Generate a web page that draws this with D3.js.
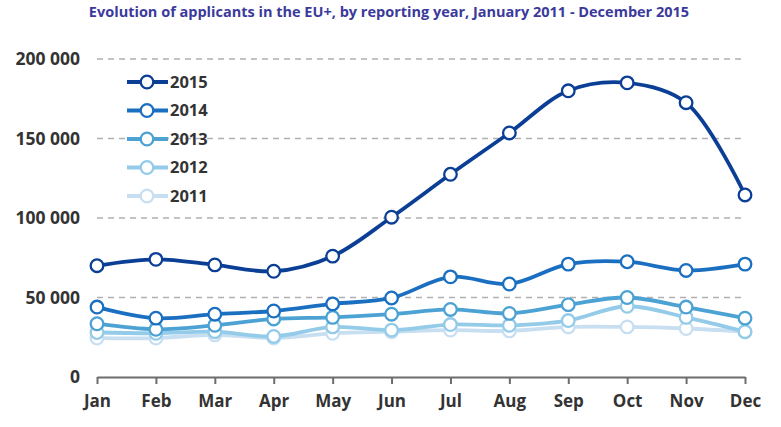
<!DOCTYPE html>
<html>
<head>
<meta charset="utf-8">
<script src="https://cdn.jsdelivr.net/npm/d3@7"></script>
<style>
  body { margin: 0; background: #fff; }
  #chart text { font-family: "Open Sans", "Noto Sans", sans-serif; }
</style>
</head>
<body>
<div id="chart"></div>
<script>
// chart data
var months = ["Jan", "Feb", "Mar", "Apr", "May", "Jun", "Jul", "Aug", "Sep", "Oct", "Nov", "Dec"];
var years = ["2015", "2014", "2013", "2012", "2011"];
var values2015 = [70000, 74000, 70500, 66500, 76000, 100500, 127500, 153500, 180000, 185000, 172500, 114500];
var values2014 = [44000, 37000, 39500, 41500, 46000, 49700, 63000, 58500, 71000, 72500, 67000, 71000];
var values2013 = [33500, 30000, 32500, 36500, 37500, 39500, 42500, 40000, 45500, 50000, 44000, 37000];
var values2012 = [28000, 27500, 28500, 25500, 31500, 29500, 33000, 32500, 35500, 44500, 37500, 28500];
var values2011 = [24500, 24500, 26500, 24500, 27500, 28500, 29500, 29000, 31500, 31500, 30500, 28500];
var yTicks = [0, 50000, 100000, 150000, 200000];

var seriesValues = {
  "2015": values2015, "2014": values2014, "2013": values2013,
  "2012": values2012, "2011": values2011
};
var colors = {
  "2015": "#0b3f95", "2014": "#1b6fc0", "2013": "#4da2d4",
  "2012": "#93cbe8", "2011": "#c8dff2"
};

var width = 781, height = 427;
var margin = {top: 59, left: 97, right: 36, bottom: 50};

var svg = d3.select("#chart").append("svg")
    .attr("width", width)
    .attr("height", height);

svg.append("text")
    .attr("x", 389)
    .attr("y", 17)
    .attr("text-anchor", "middle")
    .style("font-size", "14.5px")
    .style("font-weight", "bold")
    .style("fill", "#3b3a9c")
    .text("Evolution of applicants in the EU+, by reporting year, January 2011 - December 2015");

var x = d3.scalePoint().domain(months).range([margin.left, width - margin.right]);
var y = d3.scaleLinear().domain([0, 200000]).range([height - margin.bottom, margin.top]);

// dashed gridlines
svg.selectAll(".grid")
    .data(yTicks.filter(function(d) { return d > 0; }))
  .enter().append("line")
    .attr("x1", margin.left)
    .attr("x2", width - margin.right)
    .attr("y1", function(d) { return y(d); })
    .attr("y2", function(d) { return y(d); })
    .style("stroke", "#b0b0b0")
    .style("stroke-width", 1.5)
    .style("stroke-dasharray", "6,5");

// y tick labels
svg.selectAll(".ylab")
    .data(yTicks)
  .enter().append("text")
    .attr("x", 80)
    .attr("y", function(d) { return y(d); })
    .attr("dy", "0.36em")
    .attr("text-anchor", "end")
    .style("font-size", "17.5px")
    .style("font-weight", "bold")
    .style("fill", "#333")
    .text(function(d) { return d3.format(",")(d).replace(/,/g, " "); });

// x axis
var xAxis = d3.axisBottom(x).tickSize(7).tickSizeOuter(0).tickPadding(11);
var gx = svg.append("g")
    .attr("transform", "translate(0," + y(0) + ")")
    .call(xAxis);
gx.select(".domain").style("stroke", "#6d6d6d").style("stroke-width", 2);
gx.selectAll(".tick line").style("stroke", "#6d6d6d").style("stroke-width", 2);
gx.selectAll(".tick text")
    .style("font-size", "17px")
    .style("font-weight", "bold")
    .style("fill", "#333");

var line = d3.line()
    .x(function(d, i) { return x(months[i]); })
    .y(function(d) { return y(d); })
    .curve(d3.curveCatmullRom.alpha(0.5));

var drawOrder = years.slice().reverse();
drawOrder.forEach(function(yr) {
  var vals = seriesValues[yr];
  var g = svg.append("g");
  g.append("path")
      .datum(vals)
      .attr("d", line)
      .style("fill", "none")
      .style("stroke", colors[yr])
      .style("stroke-width", 3.8);
  g.selectAll("circle")
      .data(vals)
    .enter().append("circle")
      .attr("cx", function(d, i) { return x(months[i]); })
      .attr("cy", function(d) { return y(d); })
      .attr("r", 6.3)
      .style("fill", "#fff")
      .style("stroke", colors[yr])
      .style("stroke-width", 2.3);
});

// legend
var legend = svg.append("g");
years.forEach(function(yr, i) {
  var ly = 82 + i * 28.5;
  legend.append("line")
      .attr("x1", 127).attr("x2", 168)
      .attr("y1", ly).attr("y2", ly)
      .style("stroke", colors[yr])
      .style("stroke-width", 3.8);
  legend.append("circle")
      .attr("cx", 147).attr("cy", ly).attr("r", 6.3)
      .style("fill", "#fff")
      .style("stroke", colors[yr])
      .style("stroke-width", 2.3);
  legend.append("text")
      .attr("x", 170).attr("y", ly)
      .attr("dy", "0.36em")
      .style("font-size", "16.5px")
      .style("font-weight", "bold")
      .style("fill", "#333")
      .text(yr);
});
</script>
</body>
</html>
